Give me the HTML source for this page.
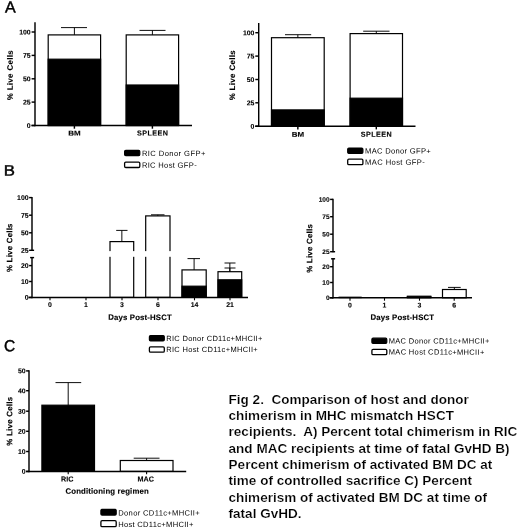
<!DOCTYPE html>
<html><head><meta charset="utf-8"><title>Fig 2</title>
<style>
html,body{margin:0;padding:0;background:#fff}
body{width:520px;height:532px;position:relative;overflow:hidden;font-family:"Liberation Sans",sans-serif}
svg{position:absolute;left:0;top:0}
svg text{font-family:"Liberation Sans",sans-serif}
</style></head><body>
<svg width="520" height="532" viewBox="0 0 520 532">
<text x="5.1" y="12.5" font-size="16" font-weight="normal" text-anchor="start" transform="rotate(0.03 5.1 12.5)" fill="#000" stroke="#000" stroke-width="0.45">A</text>
<text transform="translate(3.7,175.4) rotate(0.03) scale(1.11,1)" font-size="15.1" fill="#000" stroke="#000" stroke-width="0.45">B</text>
<text transform="translate(4.0,351.2) rotate(0.03) scale(0.97,1)" font-size="16" fill="#000" stroke="#000" stroke-width="0.45">C</text>
<rect x="48.20" y="34.90" width="52.40" height="90.60" fill="#fff" stroke="#000" stroke-width="1.2"/>
<rect x="48.20" y="59.20" width="52.40" height="66.30" fill="#000" stroke="#000" stroke-width="1.2"/>
<line x1="74.4" y1="27.6" x2="74.4" y2="34.9" stroke="#000" stroke-width="0.95"/>
<line x1="61" y1="27.6" x2="87" y2="27.6" stroke="#000" stroke-width="0.95"/>
<line x1="74.4" y1="125.5" x2="74.4" y2="128.7" stroke="#000" stroke-width="1.45"/>
<rect x="126.20" y="34.90" width="52.40" height="90.60" fill="#fff" stroke="#000" stroke-width="1.2"/>
<rect x="126.20" y="85.00" width="52.40" height="40.50" fill="#000" stroke="#000" stroke-width="1.2"/>
<line x1="152.4" y1="30.4" x2="152.4" y2="34.9" stroke="#000" stroke-width="0.95"/>
<line x1="139.5" y1="30.4" x2="165.5" y2="30.4" stroke="#000" stroke-width="0.95"/>
<line x1="152.4" y1="125.5" x2="152.4" y2="128.7" stroke="#000" stroke-width="1.45"/>
<line x1="35" y1="22.3" x2="35" y2="126.225" stroke="#000" stroke-width="1.45"/>
<line x1="31.5" y1="125.5" x2="192" y2="125.5" stroke="#000" stroke-width="1.45"/>
<line x1="31.6" y1="32" x2="35" y2="32" stroke="#000" stroke-width="1.45"/>
<text x="30.700000000000003" y="34.484" font-size="6.9" font-weight="bold" text-anchor="end" transform="rotate(0.03 30.700000000000003 34.484)" fill="#000" stroke="#000" stroke-width="0.1">100</text>
<line x1="31.6" y1="55.4" x2="35" y2="55.4" stroke="#000" stroke-width="1.45"/>
<text x="30.700000000000003" y="57.884" font-size="6.9" font-weight="bold" text-anchor="end" transform="rotate(0.03 30.700000000000003 57.884)" fill="#000" stroke="#000" stroke-width="0.1">75</text>
<line x1="31.6" y1="78.8" x2="35" y2="78.8" stroke="#000" stroke-width="1.45"/>
<text x="30.700000000000003" y="81.28399999999999" font-size="6.9" font-weight="bold" text-anchor="end" transform="rotate(0.03 30.700000000000003 81.28399999999999)" fill="#000" stroke="#000" stroke-width="0.1">50</text>
<line x1="31.6" y1="102.1" x2="35" y2="102.1" stroke="#000" stroke-width="1.45"/>
<text x="30.700000000000003" y="104.58399999999999" font-size="6.9" font-weight="bold" text-anchor="end" transform="rotate(0.03 30.700000000000003 104.58399999999999)" fill="#000" stroke="#000" stroke-width="0.1">25</text>
<line x1="31.6" y1="125.5" x2="35" y2="125.5" stroke="#000" stroke-width="1.45"/>
<text x="30.700000000000003" y="127.984" font-size="6.9" font-weight="bold" text-anchor="end" transform="rotate(0.03 30.700000000000003 127.984)" fill="#000" stroke="#000" stroke-width="0.1">0</text>
<text x="12.7" y="75.3" font-size="7.9" font-weight="bold" text-anchor="middle" textLength="50" lengthAdjust="spacing" transform="rotate(-90.03 12.7 75.3)" fill="#000" stroke="#000" stroke-width="0.12">% Live Cells</text>
<text x="74.5" y="135.6" font-size="7.0" font-weight="bold" text-anchor="middle" textLength="12.4" lengthAdjust="spacingAndGlyphs" transform="rotate(0.03 74.5 135.6)" fill="#000" stroke="#000" stroke-width="0.12">BM</text>
<text x="152.5" y="135.6" font-size="7.2" font-weight="bold" text-anchor="middle" textLength="31" lengthAdjust="spacing" transform="rotate(0.03 152.5 135.6)" fill="#000" stroke="#000" stroke-width="0.12">SPLEEN</text>
<rect x="124.60" y="150.30" width="15.20" height="5.40" rx="1.2" fill="#000" stroke="#000" stroke-width="1.2"/>
<rect x="124.60" y="162.10" width="15.20" height="5.40" rx="1.2" fill="#fff" stroke="#000" stroke-width="1.3"/>
<text x="141.9" y="155.9" font-size="7.6" font-weight="normal" text-anchor="start" textLength="63.5" lengthAdjust="spacing" transform="rotate(0.03 141.9 155.9)" fill="#000">RIC Donor GFP+</text>
<text x="141.9" y="167.70000000000002" font-size="7.6" font-weight="normal" text-anchor="start" textLength="54.8" lengthAdjust="spacing" transform="rotate(0.03 141.9 167.70000000000002)" fill="#000">RIC Host GFP-</text>
<rect x="271.50" y="37.70" width="52.70" height="88.50" fill="#fff" stroke="#000" stroke-width="1.2"/>
<rect x="271.50" y="109.90" width="52.70" height="16.30" fill="#000" stroke="#000" stroke-width="1.2"/>
<line x1="297.85" y1="34.7" x2="297.85" y2="37.7" stroke="#000" stroke-width="0.95"/>
<line x1="285" y1="34.7" x2="311.2" y2="34.7" stroke="#000" stroke-width="0.95"/>
<line x1="297.85" y1="126.2" x2="297.85" y2="129.4" stroke="#000" stroke-width="1.45"/>
<rect x="350.10" y="33.60" width="52.40" height="92.60" fill="#fff" stroke="#000" stroke-width="1.2"/>
<rect x="350.10" y="98.20" width="52.40" height="28.00" fill="#000" stroke="#000" stroke-width="1.2"/>
<line x1="376.3" y1="31.2" x2="376.3" y2="33.6" stroke="#000" stroke-width="0.95"/>
<line x1="363.2" y1="31.2" x2="389.5" y2="31.2" stroke="#000" stroke-width="0.95"/>
<line x1="376.3" y1="126.2" x2="376.3" y2="129.4" stroke="#000" stroke-width="1.45"/>
<line x1="258.7" y1="23.0" x2="258.7" y2="126.925" stroke="#000" stroke-width="1.45"/>
<line x1="255.2" y1="126.2" x2="415.5" y2="126.2" stroke="#000" stroke-width="1.45"/>
<line x1="255.29999999999998" y1="32.7" x2="258.7" y2="32.7" stroke="#000" stroke-width="1.45"/>
<text x="254.39999999999998" y="35.184000000000005" font-size="6.9" font-weight="bold" text-anchor="end" transform="rotate(0.03 254.39999999999998 35.184000000000005)" fill="#000" stroke="#000" stroke-width="0.1">100</text>
<line x1="255.29999999999998" y1="56.1" x2="258.7" y2="56.1" stroke="#000" stroke-width="1.45"/>
<text x="254.39999999999998" y="58.584" font-size="6.9" font-weight="bold" text-anchor="end" transform="rotate(0.03 254.39999999999998 58.584)" fill="#000" stroke="#000" stroke-width="0.1">75</text>
<line x1="255.29999999999998" y1="79.5" x2="258.7" y2="79.5" stroke="#000" stroke-width="1.45"/>
<text x="254.39999999999998" y="81.984" font-size="6.9" font-weight="bold" text-anchor="end" transform="rotate(0.03 254.39999999999998 81.984)" fill="#000" stroke="#000" stroke-width="0.1">50</text>
<line x1="255.29999999999998" y1="102.8" x2="258.7" y2="102.8" stroke="#000" stroke-width="1.45"/>
<text x="254.39999999999998" y="105.28399999999999" font-size="6.9" font-weight="bold" text-anchor="end" transform="rotate(0.03 254.39999999999998 105.28399999999999)" fill="#000" stroke="#000" stroke-width="0.1">25</text>
<line x1="255.29999999999998" y1="126.2" x2="258.7" y2="126.2" stroke="#000" stroke-width="1.45"/>
<text x="254.39999999999998" y="128.684" font-size="6.9" font-weight="bold" text-anchor="end" transform="rotate(0.03 254.39999999999998 128.684)" fill="#000" stroke="#000" stroke-width="0.1">0</text>
<text x="235" y="75.3" font-size="7.9" font-weight="bold" text-anchor="middle" textLength="50" lengthAdjust="spacing" transform="rotate(-90.03 235 75.3)" fill="#000" stroke="#000" stroke-width="0.12">% Live Cells</text>
<text x="298" y="136.7" font-size="7.0" font-weight="bold" text-anchor="middle" textLength="12.4" lengthAdjust="spacingAndGlyphs" transform="rotate(0.03 298 136.7)" fill="#000" stroke="#000" stroke-width="0.12">BM</text>
<text x="376.2" y="136.7" font-size="7.2" font-weight="bold" text-anchor="middle" textLength="31" lengthAdjust="spacing" transform="rotate(0.03 376.2 136.7)" fill="#000" stroke="#000" stroke-width="0.12">SPLEEN</text>
<rect x="347.70" y="148.00" width="15.20" height="5.40" rx="1.2" fill="#000" stroke="#000" stroke-width="1.2"/>
<rect x="347.70" y="159.20" width="15.20" height="5.40" rx="1.2" fill="#fff" stroke="#000" stroke-width="1.3"/>
<text x="365.0" y="153.6" font-size="7.6" font-weight="normal" text-anchor="start" textLength="65.8" lengthAdjust="spacing" transform="rotate(0.03 365.0 153.6)" fill="#000">MAC Donor GFP+</text>
<text x="365.0" y="164.79999999999998" font-size="7.6" font-weight="normal" text-anchor="start" textLength="59.8" lengthAdjust="spacing" transform="rotate(0.03 365.0 164.79999999999998)" fill="#000">MAC Host GFP-</text>
<rect x="110.00" y="241.60" width="23.70" height="55.80" fill="#fff" stroke="#000" stroke-width="1.2"/>
<line x1="121.85" y1="230.4" x2="121.85" y2="241.6" stroke="#000" stroke-width="0.95"/>
<line x1="116.2" y1="230.4" x2="127.5" y2="230.4" stroke="#000" stroke-width="0.95"/>
<rect x="145.70" y="215.90" width="24.30" height="81.50" fill="#fff" stroke="#000" stroke-width="1.2"/>
<line x1="157.85" y1="214.8" x2="157.85" y2="215.9" stroke="#000" stroke-width="0.95"/>
<line x1="151" y1="214.8" x2="164.5" y2="214.8" stroke="#000" stroke-width="0.95"/>
<rect x="182.00" y="269.90" width="24.20" height="27.50" fill="#fff" stroke="#000" stroke-width="1.2"/>
<rect x="182.00" y="286.20" width="24.20" height="11.20" fill="#000" stroke="#000" stroke-width="1.2"/>
<line x1="194.1" y1="258.6" x2="194.1" y2="269.9" stroke="#000" stroke-width="0.95"/>
<line x1="187.5" y1="258.6" x2="200" y2="258.6" stroke="#000" stroke-width="0.95"/>
<rect x="218.00" y="271.70" width="23.70" height="25.70" fill="#fff" stroke="#000" stroke-width="1.2"/>
<rect x="218.00" y="279.80" width="23.70" height="17.60" fill="#000" stroke="#000" stroke-width="1.2"/>
<line x1="229.85" y1="263" x2="229.85" y2="271.7" stroke="#000" stroke-width="0.95"/>
<line x1="224.5" y1="263" x2="235.5" y2="263" stroke="#000" stroke-width="0.95"/>
<line x1="229.85" y1="268" x2="229.85" y2="271.7" stroke="#000" stroke-width="0.95"/>
<line x1="224.5" y1="268" x2="235.5" y2="268" stroke="#000" stroke-width="0.95"/>
<rect x="26" y="251.10000000000002" width="224" height="5.70" fill="#fff"/>
<line x1="32" y1="196.875" x2="32" y2="250.9" stroke="#000" stroke-width="1.45"/>
<line x1="32" y1="257.0" x2="32" y2="298.125" stroke="#000" stroke-width="1.45"/>
<line x1="28.5" y1="297.4" x2="248" y2="297.4" stroke="#000" stroke-width="1.45"/>
<line x1="30.1" y1="257.6" x2="34.1" y2="257.6" stroke="#000" stroke-width="1.45"/>
<line x1="32" y1="250.3" x2="34.1" y2="250.3" stroke="#000" stroke-width="1.45"/>
<line x1="29.1" y1="197.6" x2="32" y2="197.6" stroke="#000" stroke-width="1.45"/>
<text x="28.6" y="200.084" font-size="6.9" font-weight="bold" text-anchor="end" transform="rotate(0.03 28.6 200.084)" fill="#000" stroke="#000" stroke-width="0.1">100</text>
<line x1="29.1" y1="215.2" x2="32" y2="215.2" stroke="#000" stroke-width="1.45"/>
<text x="28.6" y="217.684" font-size="6.9" font-weight="bold" text-anchor="end" transform="rotate(0.03 28.6 217.684)" fill="#000" stroke="#000" stroke-width="0.1">75</text>
<line x1="29.1" y1="232.8" x2="32" y2="232.8" stroke="#000" stroke-width="1.45"/>
<text x="28.6" y="235.28400000000002" font-size="6.9" font-weight="bold" text-anchor="end" transform="rotate(0.03 28.6 235.28400000000002)" fill="#000" stroke="#000" stroke-width="0.1">50</text>
<line x1="29.1" y1="250.3" x2="32" y2="250.3" stroke="#000" stroke-width="1.45"/>
<text x="28.6" y="252.78400000000002" font-size="6.9" font-weight="bold" text-anchor="end" transform="rotate(0.03 28.6 252.78400000000002)" fill="#000" stroke="#000" stroke-width="0.1">25</text>
<line x1="29.1" y1="265.6" x2="32" y2="265.6" stroke="#000" stroke-width="1.45"/>
<text x="28.6" y="268.084" font-size="6.9" font-weight="bold" text-anchor="end" transform="rotate(0.03 28.6 268.084)" fill="#000" stroke="#000" stroke-width="0.1">20</text>
<line x1="29.1" y1="281.5" x2="32" y2="281.5" stroke="#000" stroke-width="1.45"/>
<text x="28.6" y="283.984" font-size="6.9" font-weight="bold" text-anchor="end" transform="rotate(0.03 28.6 283.984)" fill="#000" stroke="#000" stroke-width="0.1">10</text>
<line x1="29.1" y1="297.4" x2="32" y2="297.4" stroke="#000" stroke-width="1.45"/>
<text x="28.6" y="299.88399999999996" font-size="6.9" font-weight="bold" text-anchor="end" transform="rotate(0.03 28.6 299.88399999999996)" fill="#000" stroke="#000" stroke-width="0.1">0</text>
<line x1="50" y1="297.4" x2="50" y2="300.29999999999995" stroke="#000" stroke-width="1.1"/>
<text x="50" y="307.0" font-size="6.9" font-weight="bold" text-anchor="middle" transform="rotate(0.03 50 307.0)" fill="#000" stroke="#000" stroke-width="0.1">0</text>
<line x1="86" y1="297.4" x2="86" y2="300.29999999999995" stroke="#000" stroke-width="1.1"/>
<text x="86" y="307.0" font-size="6.9" font-weight="bold" text-anchor="middle" transform="rotate(0.03 86 307.0)" fill="#000" stroke="#000" stroke-width="0.1">1</text>
<line x1="122" y1="297.4" x2="122" y2="300.29999999999995" stroke="#000" stroke-width="1.1"/>
<text x="122" y="307.0" font-size="6.9" font-weight="bold" text-anchor="middle" transform="rotate(0.03 122 307.0)" fill="#000" stroke="#000" stroke-width="0.1">3</text>
<line x1="158" y1="297.4" x2="158" y2="300.29999999999995" stroke="#000" stroke-width="1.1"/>
<text x="158" y="307.0" font-size="6.9" font-weight="bold" text-anchor="middle" transform="rotate(0.03 158 307.0)" fill="#000" stroke="#000" stroke-width="0.1">6</text>
<line x1="194.5" y1="297.4" x2="194.5" y2="300.29999999999995" stroke="#000" stroke-width="1.1"/>
<text x="194.5" y="307.0" font-size="6.9" font-weight="bold" text-anchor="middle" transform="rotate(0.03 194.5 307.0)" fill="#000" stroke="#000" stroke-width="0.1">14</text>
<line x1="230" y1="297.4" x2="230" y2="300.29999999999995" stroke="#000" stroke-width="1.1"/>
<text x="230" y="307.0" font-size="6.9" font-weight="bold" text-anchor="middle" transform="rotate(0.03 230 307.0)" fill="#000" stroke="#000" stroke-width="0.1">21</text>
<text x="12.2" y="247.8" font-size="7.9" font-weight="bold" text-anchor="middle" textLength="48.6" lengthAdjust="spacing" transform="rotate(-90.03 12.2 247.8)" fill="#000" stroke="#000" stroke-width="0.12">% Live Cells</text>
<text x="140" y="319.9" font-size="7.8" font-weight="bold" text-anchor="middle" textLength="63.5" lengthAdjust="spacing" transform="rotate(0.03 140 319.9)" fill="#000" stroke="#000" stroke-width="0.12">Days Post-HSCT</text>
<rect x="149.40" y="335.60" width="14.90" height="5.30" rx="1.2" fill="#000" stroke="#000" stroke-width="1.2"/>
<rect x="149.40" y="346.80" width="14.90" height="5.30" rx="1.2" fill="#fff" stroke="#000" stroke-width="1.3"/>
<text x="166.2" y="340.90000000000003" font-size="7.5" font-weight="normal" text-anchor="start" textLength="96.2" lengthAdjust="spacing" transform="rotate(0.03 166.2 340.90000000000003)" fill="#000">RIC Donor CD11c+MHCII+</text>
<text x="166.2" y="352.0" font-size="7.5" font-weight="normal" text-anchor="start" textLength="91.5" lengthAdjust="spacing" transform="rotate(0.03 166.2 352.0)" fill="#000">RIC Host CD11c+MHCII+</text>
<rect x="338.90" y="297.00" width="22.60" height="0.80" fill="#fff" stroke="#000" stroke-width="0.7"/>
<rect x="407.20" y="296.20" width="23.80" height="1.60" fill="#fff" stroke="#000" stroke-width="0.8"/>
<rect x="407.20" y="296.20" width="23.80" height="1.60" fill="#000" stroke="#000" stroke-width="0.8"/>
<rect x="442.50" y="289.50" width="23.70" height="8.30" fill="#fff" stroke="#000" stroke-width="1.2"/>
<line x1="454.35" y1="287.4" x2="454.35" y2="289.5" stroke="#000" stroke-width="0.95"/>
<line x1="448" y1="287.4" x2="460.7" y2="287.4" stroke="#000" stroke-width="0.95"/>
<rect x="327.0" y="252.5" width="147.0" height="5.50" fill="#fff"/>
<line x1="333.0" y1="198.675" x2="333.0" y2="252.29999999999998" stroke="#000" stroke-width="1.45"/>
<line x1="333.0" y1="258.2" x2="333.0" y2="298.52500000000003" stroke="#000" stroke-width="1.45"/>
<line x1="329.5" y1="297.8" x2="472" y2="297.8" stroke="#000" stroke-width="1.45"/>
<line x1="331.1" y1="258.8" x2="335.1" y2="258.8" stroke="#000" stroke-width="1.45"/>
<line x1="333.0" y1="251.7" x2="335.1" y2="251.7" stroke="#000" stroke-width="1.45"/>
<line x1="330.1" y1="199.4" x2="333.0" y2="199.4" stroke="#000" stroke-width="1.45"/>
<text x="329.6" y="201.74" font-size="6.5" font-weight="bold" text-anchor="end" transform="rotate(0.03 329.6 201.74)" fill="#000" stroke="#000" stroke-width="0.1">100</text>
<line x1="330.1" y1="216.7" x2="333.0" y2="216.7" stroke="#000" stroke-width="1.45"/>
<text x="329.6" y="219.04" font-size="6.5" font-weight="bold" text-anchor="end" transform="rotate(0.03 329.6 219.04)" fill="#000" stroke="#000" stroke-width="0.1">75</text>
<line x1="330.1" y1="234.2" x2="333.0" y2="234.2" stroke="#000" stroke-width="1.45"/>
<text x="329.6" y="236.54" font-size="6.5" font-weight="bold" text-anchor="end" transform="rotate(0.03 329.6 236.54)" fill="#000" stroke="#000" stroke-width="0.1">50</text>
<line x1="330.1" y1="251.7" x2="333.0" y2="251.7" stroke="#000" stroke-width="1.45"/>
<text x="329.6" y="254.04" font-size="6.5" font-weight="bold" text-anchor="end" transform="rotate(0.03 329.6 254.04)" fill="#000" stroke="#000" stroke-width="0.1">25</text>
<line x1="330.1" y1="266.7" x2="333.0" y2="266.7" stroke="#000" stroke-width="1.45"/>
<text x="329.6" y="269.03999999999996" font-size="6.5" font-weight="bold" text-anchor="end" transform="rotate(0.03 329.6 269.03999999999996)" fill="#000" stroke="#000" stroke-width="0.1">20</text>
<line x1="330.1" y1="282.5" x2="333.0" y2="282.5" stroke="#000" stroke-width="1.45"/>
<text x="329.6" y="284.84" font-size="6.5" font-weight="bold" text-anchor="end" transform="rotate(0.03 329.6 284.84)" fill="#000" stroke="#000" stroke-width="0.1">10</text>
<line x1="330.1" y1="297.8" x2="333.0" y2="297.8" stroke="#000" stroke-width="1.45"/>
<text x="329.6" y="300.14" font-size="6.5" font-weight="bold" text-anchor="end" transform="rotate(0.03 329.6 300.14)" fill="#000" stroke="#000" stroke-width="0.1">0</text>
<line x1="350" y1="297.8" x2="350" y2="300.7" stroke="#000" stroke-width="1.1"/>
<text x="350" y="307.40000000000003" font-size="6.9" font-weight="bold" text-anchor="middle" transform="rotate(0.03 350 307.40000000000003)" fill="#000" stroke="#000" stroke-width="0.1">0</text>
<line x1="384.5" y1="297.8" x2="384.5" y2="300.7" stroke="#000" stroke-width="1.1"/>
<text x="384.5" y="307.40000000000003" font-size="6.9" font-weight="bold" text-anchor="middle" transform="rotate(0.03 384.5 307.40000000000003)" fill="#000" stroke="#000" stroke-width="0.1">1</text>
<line x1="419.5" y1="297.8" x2="419.5" y2="300.7" stroke="#000" stroke-width="1.1"/>
<text x="419.5" y="307.40000000000003" font-size="6.9" font-weight="bold" text-anchor="middle" transform="rotate(0.03 419.5 307.40000000000003)" fill="#000" stroke="#000" stroke-width="0.1">3</text>
<line x1="454.2" y1="297.8" x2="454.2" y2="300.7" stroke="#000" stroke-width="1.1"/>
<text x="454.2" y="307.40000000000003" font-size="6.9" font-weight="bold" text-anchor="middle" transform="rotate(0.03 454.2 307.40000000000003)" fill="#000" stroke="#000" stroke-width="0.1">6</text>
<text x="312.3" y="248.5" font-size="7.9" font-weight="bold" text-anchor="middle" textLength="48.6" lengthAdjust="spacing" transform="rotate(-90.03 312.3 248.5)" fill="#000" stroke="#000" stroke-width="0.12">% Live Cells</text>
<text x="402.3" y="319.9" font-size="7.8" font-weight="bold" text-anchor="middle" textLength="63.5" lengthAdjust="spacing" transform="rotate(0.03 402.3 319.9)" fill="#000" stroke="#000" stroke-width="0.12">Days Post-HSCT</text>
<rect x="371.90" y="338.20" width="14.90" height="5.30" rx="1.2" fill="#000" stroke="#000" stroke-width="1.2"/>
<rect x="371.90" y="349.40" width="14.90" height="5.30" rx="1.2" fill="#fff" stroke="#000" stroke-width="1.3"/>
<text x="388.7" y="343.5" font-size="7.5" font-weight="normal" text-anchor="start" textLength="100.7" lengthAdjust="spacing" transform="rotate(0.03 388.7 343.5)" fill="#000">MAC Donor CD11c+MHCII+</text>
<text x="388.7" y="354.59999999999997" font-size="7.5" font-weight="normal" text-anchor="start" textLength="95.7" lengthAdjust="spacing" transform="rotate(0.03 388.7 354.59999999999997)" fill="#000">MAC Host CD11c+MHCII+</text>
<rect x="41.90" y="405.20" width="52.60" height="66.20" fill="#000" stroke="#000" stroke-width="1.2"/>
<line x1="68.2" y1="382.6" x2="68.2" y2="405.2" stroke="#000" stroke-width="0.95"/>
<line x1="55.5" y1="382.6" x2="81.2" y2="382.6" stroke="#000" stroke-width="0.95"/>
<rect x="120.30" y="460.50" width="52.70" height="10.90" fill="#fff" stroke="#000" stroke-width="1.2"/>
<line x1="146.6" y1="458.2" x2="146.6" y2="460.5" stroke="#000" stroke-width="0.95"/>
<line x1="133.7" y1="458.2" x2="159.5" y2="458.2" stroke="#000" stroke-width="0.95"/>
<line x1="29.0" y1="370.17499999999995" x2="29.0" y2="472.125" stroke="#000" stroke-width="1.45"/>
<line x1="26" y1="471.4" x2="186.2" y2="471.4" stroke="#000" stroke-width="1.45"/>
<line x1="26.1" y1="370.9" x2="29.0" y2="370.9" stroke="#000" stroke-width="1.45"/>
<text x="25.6" y="373.38399999999996" font-size="6.9" font-weight="bold" text-anchor="end" transform="rotate(0.03 25.6 373.38399999999996)" fill="#000" stroke="#000" stroke-width="0.1">50</text>
<line x1="26.1" y1="390.7" x2="29.0" y2="390.7" stroke="#000" stroke-width="1.45"/>
<text x="25.6" y="393.18399999999997" font-size="6.9" font-weight="bold" text-anchor="end" transform="rotate(0.03 25.6 393.18399999999997)" fill="#000" stroke="#000" stroke-width="0.1">40</text>
<line x1="26.1" y1="411.2" x2="29.0" y2="411.2" stroke="#000" stroke-width="1.45"/>
<text x="25.6" y="413.68399999999997" font-size="6.9" font-weight="bold" text-anchor="end" transform="rotate(0.03 25.6 413.68399999999997)" fill="#000" stroke="#000" stroke-width="0.1">30</text>
<line x1="26.1" y1="431.3" x2="29.0" y2="431.3" stroke="#000" stroke-width="1.45"/>
<text x="25.6" y="433.784" font-size="6.9" font-weight="bold" text-anchor="end" transform="rotate(0.03 25.6 433.784)" fill="#000" stroke="#000" stroke-width="0.1">20</text>
<line x1="26.1" y1="451.5" x2="29.0" y2="451.5" stroke="#000" stroke-width="1.45"/>
<text x="25.6" y="453.984" font-size="6.9" font-weight="bold" text-anchor="end" transform="rotate(0.03 25.6 453.984)" fill="#000" stroke="#000" stroke-width="0.1">10</text>
<line x1="26.1" y1="471.4" x2="29.0" y2="471.4" stroke="#000" stroke-width="1.45"/>
<text x="25.6" y="473.88399999999996" font-size="6.9" font-weight="bold" text-anchor="end" transform="rotate(0.03 25.6 473.88399999999996)" fill="#000" stroke="#000" stroke-width="0.1">0</text>
<text x="12.2" y="421.3" font-size="7.9" font-weight="bold" text-anchor="middle" textLength="48.8" lengthAdjust="spacing" transform="rotate(-90.03 12.2 421.3)" fill="#000" stroke="#000" stroke-width="0.12">% Live Cells</text>
<line x1="68.2" y1="471.4" x2="68.2" y2="474.29999999999995" stroke="#000" stroke-width="1.1"/>
<line x1="146.6" y1="471.4" x2="146.6" y2="474.29999999999995" stroke="#000" stroke-width="1.1"/>
<text x="67.2" y="481.6" font-size="7.2" font-weight="bold" text-anchor="middle" transform="rotate(0.03 67.2 481.6)" fill="#000" stroke="#000" stroke-width="0.12">RIC</text>
<text x="145.7" y="481.6" font-size="7.2" font-weight="bold" text-anchor="middle" transform="rotate(0.03 145.7 481.6)" fill="#000" stroke="#000" stroke-width="0.12">MAC</text>
<text x="107.1" y="493.7" font-size="7.8" font-weight="bold" text-anchor="middle" textLength="83.2" lengthAdjust="spacing" transform="rotate(0.03 107.1 493.7)" fill="#000" stroke="#000" stroke-width="0.12">Conditioning regimen</text>
<rect x="100.90" y="509.30" width="15.30" height="5.80" rx="1.2" fill="#000" stroke="#000" stroke-width="1.2"/>
<rect x="100.90" y="520.70" width="15.30" height="5.90" rx="1.2" fill="#fff" stroke="#000" stroke-width="1.3"/>
<text x="118.2" y="515.4" font-size="7.6" font-weight="normal" text-anchor="start" textLength="81.5" lengthAdjust="spacing" transform="rotate(0.03 118.2 515.4)" fill="#000">Donor CD11c+MHCII+</text>
<text x="118.2" y="526.9" font-size="7.6" font-weight="normal" text-anchor="start" textLength="75.2" lengthAdjust="spacing" transform="rotate(0.03 118.2 526.9)" fill="#000">Host CD11c+MHCII+</text>
<text x="228.6" y="403.50" xml:space="preserve" style="white-space:pre" transform="rotate(0.02 228.6 403.50)" font-size="13.52" font-weight="bold" fill="#000" stroke="#fff" stroke-width="0.2">Fig 2.  Comparison of host and donor</text>
<text x="228.6" y="419.88" xml:space="preserve" style="white-space:pre" transform="rotate(0.02 228.6 419.88)" font-size="13.52" font-weight="bold" fill="#000" stroke="#fff" stroke-width="0.2">chimerism in MHC mismatch HSCT</text>
<text x="228.6" y="436.26" xml:space="preserve" style="white-space:pre" transform="rotate(0.02 228.6 436.26)" font-size="13.52" font-weight="bold" fill="#000" stroke="#fff" stroke-width="0.2">recipients.  A) Percent total chimerism in RIC</text>
<text x="228.6" y="452.64" xml:space="preserve" style="white-space:pre" transform="rotate(0.02 228.6 452.64)" font-size="13.52" font-weight="bold" fill="#000" stroke="#fff" stroke-width="0.2">and MAC recipients at time of fatal GvHD B)</text>
<text x="228.6" y="469.02" xml:space="preserve" style="white-space:pre" transform="rotate(0.02 228.6 469.02)" font-size="13.52" font-weight="bold" fill="#000" stroke="#fff" stroke-width="0.2">Percent chimerism of activated BM DC at</text>
<text x="228.6" y="485.40" xml:space="preserve" style="white-space:pre" transform="rotate(0.02 228.6 485.40)" font-size="13.52" font-weight="bold" fill="#000" stroke="#fff" stroke-width="0.2">time of controlled sacrifice C) Percent</text>
<text x="228.6" y="501.78" xml:space="preserve" style="white-space:pre" transform="rotate(0.02 228.6 501.78)" font-size="13.52" font-weight="bold" fill="#000" stroke="#fff" stroke-width="0.2">chimerism of activated BM DC at time of</text>
<text x="228.6" y="518.16" xml:space="preserve" style="white-space:pre" transform="rotate(0.02 228.6 518.16)" font-size="13.52" font-weight="bold" fill="#000" stroke="#fff" stroke-width="0.2">fatal GvHD.</text>
</svg>

</body></html>
